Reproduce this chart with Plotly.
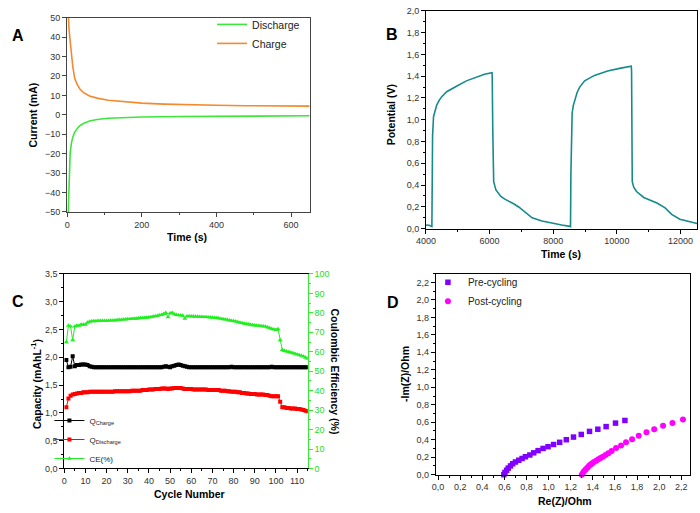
import plotly.graph_objects as go

W, H = 700, 513
FONT = "Liberation Sans, Arial, sans-serif"

# ---------------- Panel A data ----------------
a_charge_t = [2, 3, 5, 8, 11, 15, 20, 27, 35, 45, 60, 80, 110, 150, 200, 260, 330, 400, 480, 560, 650]
a_charge_i = [55, 50, 44, 38, 32, 25, 19, 15.5, 13.0, 11.3, 9.7, 8.6, 7.5, 6.7, 6.0, 5.5, 5.1, 4.9, 4.7, 4.55, 4.5]
a_dis_t = [2, 3, 4, 6, 8, 11, 15, 20, 27, 35, 45, 60, 80, 110, 150, 200, 300, 400, 500, 650]
a_dis_i = [-55, -50, -38, -26, -20, -15, -11.5, -9.0, -7.0, -5.5, -4.3, -3.2, -2.4, -1.8, -1.4, -1.15, -0.9, -0.7, -0.6, -0.5]

# ---------------- Panel B data ----------------
b_time = [4000, 4100, 4186, 4195, 4207, 4238, 4290, 4341, 4420, 4496, 4650, 4800, 4960, 5270, 5580, 5840,
          6075, 6082, 6100, 6128, 6199, 6354, 6480, 6614, 6770, 6924, 7130, 7336, 7646, 7955, 8265, 8530,
          8543, 8555, 8570, 8595, 8630, 8677, 8750, 8832, 8987, 9296, 9709, 10122, 10452, 10462, 10475,
          10484, 10530, 10618, 10845, 11050, 11259, 11516, 11723, 11980, 12290, 12520]
b_volt = [0.033, 0.030, 0.018, 0.40, 0.85, 1.03, 1.10, 1.137, 1.18, 1.212, 1.257, 1.285, 1.308, 1.357, 1.393, 1.417,
          1.432, 1.40, 0.90, 0.43, 0.355, 0.295, 0.27, 0.25, 0.225, 0.196, 0.144, 0.099, 0.069, 0.049, 0.033, 0.020,
          0.018, 0.50, 0.95, 1.062, 1.13, 1.18, 1.25, 1.30, 1.357, 1.407, 1.447, 1.474, 1.492, 1.45, 0.90,
          0.43, 0.38, 0.34, 0.286, 0.26, 0.235, 0.19, 0.13, 0.085, 0.06, 0.047]

# ---------------- Panel C data ----------------
cycles = list(range(1, 116))
q_charge = [1.95, 1.82, 1.83, 2.02, 1.84, 1.86, 1.86, 1.87, 1.87, 1.87,
            1.86, 1.84, 1.83, 1.82, 1.82, 1.82, 1.82, 1.82, 1.82, 1.82,
            1.82, 1.82, 1.82, 1.82, 1.82, 1.82, 1.82, 1.82, 1.82, 1.82,
            1.82, 1.82, 1.82, 1.82, 1.82, 1.82, 1.82, 1.82, 1.82, 1.82,
            1.82, 1.82, 1.82, 1.82, 1.82, 1.82, 1.83, 1.84, 1.83, 1.82,
            1.84, 1.85, 1.86, 1.87, 1.86, 1.85, 1.84, 1.83, 1.82, 1.82,
            1.82, 1.82, 1.82, 1.82, 1.82, 1.82, 1.82, 1.82, 1.82, 1.82,
            1.82, 1.82, 1.82, 1.82, 1.82, 1.82, 1.82, 1.82, 1.83, 1.82,
            1.82, 1.82, 1.82, 1.82, 1.82, 1.82, 1.82, 1.82, 1.82, 1.82,
            1.82, 1.82, 1.82, 1.82, 1.82, 1.82, 1.82, 1.83, 1.82, 1.82,
            1.82, 1.82, 1.82, 1.82, 1.82, 1.82, 1.82, 1.82, 1.82, 1.82,
            1.82, 1.82, 1.82, 1.82, 1.82]
q_discharge = [1.10, 1.26, 1.31, 1.33, 1.34, 1.35, 1.36, 1.36, 1.37, 1.37,
               1.37, 1.38, 1.38, 1.38, 1.38, 1.38, 1.38, 1.38, 1.38, 1.38,
               1.38, 1.38, 1.38, 1.39, 1.39, 1.39, 1.39, 1.39, 1.39, 1.39,
               1.39, 1.40, 1.40, 1.40, 1.40, 1.40, 1.41, 1.41, 1.41, 1.42,
               1.42, 1.42, 1.43, 1.43, 1.43, 1.44, 1.44, 1.44, 1.43, 1.44,
               1.44, 1.45, 1.45, 1.45, 1.45, 1.44, 1.43, 1.43, 1.43, 1.43,
               1.42, 1.42, 1.42, 1.42, 1.42, 1.42, 1.42, 1.41, 1.41, 1.41,
               1.41, 1.41, 1.41, 1.40, 1.40, 1.40, 1.39, 1.39, 1.38, 1.38,
               1.38, 1.37, 1.37, 1.36, 1.36, 1.35, 1.35, 1.34, 1.34, 1.34,
               1.33, 1.33, 1.33, 1.33, 1.32, 1.32, 1.31, 1.30, 1.30, 1.30,
               1.30, 1.20, 1.10, 1.10, 1.09, 1.09, 1.08, 1.08, 1.08, 1.07,
               1.07, 1.06, 1.05, 1.04, 1.03]
ce = [65.0, 73.5, 73.0, 66.0, 73.0, 73.5, 73.5, 74.0, 74.0, 74.0,
      75.0, 75.5, 75.7, 75.8, 75.8, 75.9, 75.9, 76.0, 76.0, 76.0,
      76.0, 76.1, 76.1, 76.2, 76.3, 76.4, 76.5, 76.6, 76.7, 76.8,
      76.9, 77.0, 77.0, 77.1, 77.2, 77.3, 77.4, 77.5, 77.6, 77.7,
      77.9, 78.1, 78.3, 78.5, 78.8, 79.0, 79.5, 80.0, 77.8, 79.8,
      80.0, 79.3, 79.0, 78.8, 78.7, 78.6, 77.0, 78.3, 78.3, 78.2,
      78.2, 78.1, 78.1, 78.0, 78.0, 77.9, 77.9, 77.8, 77.7, 77.6,
      77.5, 77.4, 77.2, 77.0, 76.8, 76.6, 76.5, 76.2, 76.0, 75.8,
      75.6, 75.3, 75.0, 74.8, 74.5, 74.3, 74.1, 73.9, 73.7, 73.6,
      73.5, 73.4, 73.3, 73.1, 73.0, 72.6, 72.2, 71.8, 71.5, 71.3,
      71.7, 66.0, 61.0, 60.5, 60.2, 59.9, 59.6, 59.3, 59.0, 58.6,
      58.3, 58.0, 57.6, 57.0, 56.5]

# ---------------- Panel D data ----------------
pre_re = [0.595, 0.605, 0.62, 0.635, 0.655, 0.675, 0.70, 0.73, 0.76, 0.79, 0.83, 0.865, 0.905,
          0.95, 0.995, 1.045, 1.10, 1.16, 1.225, 1.295, 1.37, 1.445, 1.52, 1.605, 1.69]
pre_im = [0.0, 0.025, 0.05, 0.075, 0.10, 0.125, 0.145, 0.165, 0.185, 0.205, 0.225, 0.25, 0.275,
          0.30, 0.32, 0.345, 0.37, 0.40, 0.43, 0.46, 0.495, 0.52, 0.55, 0.59, 0.62]
post_re = [1.30, 1.31, 1.32, 1.335, 1.35, 1.365, 1.38, 1.395, 1.41, 1.43, 1.45, 1.47, 1.49,
           1.515, 1.54, 1.57, 1.61, 1.655, 1.70, 1.755, 1.815, 1.885, 1.955, 2.035, 2.12, 2.215]
post_im = [0.0, 0.02, 0.04, 0.06, 0.08, 0.10, 0.115, 0.13, 0.145, 0.16, 0.175, 0.19, 0.205,
           0.225, 0.245, 0.27, 0.305, 0.335, 0.37, 0.405, 0.445, 0.485, 0.52, 0.56, 0.59, 0.63]


def px_x(p):
    return p / W


def px_y(p):
    return 1 - p / H


fig = go.Figure()

# A
fig.add_trace(go.Scatter(x=a_dis_t, y=a_dis_i, mode="lines", name="Discharge",
                         line=dict(color="#3ce63c", width=1.6), xaxis="x", yaxis="y", legend="legend"))
fig.add_trace(go.Scatter(x=a_charge_t, y=a_charge_i, mode="lines", name="Charge",
                         line=dict(color="#f5892d", width=1.6), xaxis="x", yaxis="y", legend="legend"))
# B
fig.add_trace(go.Scatter(x=b_time, y=b_volt, mode="lines", showlegend=False,
                         line=dict(color="#178a8c", width=1.6), xaxis="x2", yaxis="y2"))
# C
fig.add_trace(go.Scatter(x=cycles, y=q_charge, mode="lines+markers", name="Q<sub>Charge</sub>",
                         line=dict(color="black", width=1), marker=dict(symbol="square", size=4, color="black"),
                         xaxis="x3", yaxis="y3", legend="legend2"))
fig.add_trace(go.Scatter(x=cycles, y=q_discharge, mode="lines+markers", name="Q<sub>Discharge</sub>",
                         line=dict(color="#ff0000", width=1), marker=dict(symbol="square", size=4, color="#ff0000"),
                         xaxis="x3", yaxis="y3", legend="legend2"))
fig.add_trace(go.Scatter(x=cycles, y=ce, mode="lines+markers", name="CE(%)",
                         line=dict(color="#22ee22", width=1), marker=dict(symbol="triangle-up", size=4.5, color="#22ee22"),
                         xaxis="x3", yaxis="y5", legend="legend2"))
# D
fig.add_trace(go.Scatter(x=pre_re, y=pre_im, mode="markers", name="Pre-cycling",
                         marker=dict(symbol="square", size=5.5, color="#8000ff"),
                         xaxis="x4", yaxis="y4", legend="legend3", cliponaxis=False))
fig.add_trace(go.Scatter(x=post_re, y=post_im, mode="markers", name="Post-cycling",
                         marker=dict(symbol="circle", size=6, color="#ff00ff"),
                         xaxis="x4", yaxis="y4", legend="legend3", cliponaxis=False))


def ax(domain, rng, dtick, minor_dtick, anchor, fmt=None, color="black", mirror=True, linecolor="black"):
    d = dict(domain=domain, range=rng, dtick=dtick, tick0=0, anchor=anchor,
             showline=True, linecolor=linecolor, linewidth=1, mirror=mirror,
             ticks="outside", ticklen=4, tickwidth=1, tickcolor=linecolor,
             showgrid=False, zeroline=False, tickfont=dict(family=FONT, size=9, color=color),
             minor=dict(ticks="outside", ticklen=2, tickcolor=linecolor, dtick=minor_dtick, showgrid=False))
    if fmt:
        d["tickformat"] = fmt
    return d


layout = dict(
    width=W, height=H, margin=dict(l=0, r=0, t=0, b=0),
    paper_bgcolor="white", plot_bgcolor="white",
    separators=", ",
    font=dict(family=FONT, size=10, color="black"),
    # A
    xaxis=ax([px_x(58), px_x(304)], [0, 650], 200, 100, "y", color="#333333", linecolor="#444444"),
    yaxis=ax([px_y(211), px_y(13)], [-50, 50], 10, None, "x", color="#333333", linecolor="#444444"),
    # B
    xaxis2=ax([px_x(422), px_x(697)], [4000, 12520], 2000, 1000, "y2", fmt="d", color="#333333"),
    yaxis2=ax([px_y(228), px_y(6)], [0, 2.0], 0.2, 0.1, "x2", fmt=".1f", color="#333333"),
    # C
    xaxis3=ax([px_x(55), px_x(302)], [0, 115], 10, 5, "y3", color="#333333"),
    yaxis3=ax([px_y(472.7), px_y(274.3)], [0, 3.5], 0.5, 0.25, "x3", fmt=".1f", color="#333333", mirror=False),
    yaxis5=ax([px_y(472.7), px_y(274.3)], [0, 100], 10, 5, "x3", color="#22dd22", mirror=False, linecolor="#33ee33"),
    # D
    xaxis4=ax([px_x(432), px_x(690)], [-0.02, 2.28], 0.2, 0.1, "y4", fmt=".1f", color="#333333"),
    yaxis4=ax([px_y(479), px_y(274)], [0, 2.3], 0.2, 0.1, "x4", fmt=".1f", color="#333333"),
    legend=dict(x=px_x(205), y=px_y(5), xanchor="left", yanchor="top", bgcolor="rgba(0,0,0,0)",
                font=dict(family=FONT, size=10.5, color="#222222")),
    legend2=dict(x=px_x(40), y=px_y(409), xanchor="left", yanchor="top", bgcolor="rgba(0,0,0,0)",
                 font=dict(family=FONT, size=8, color="#222222")),
    legend3=dict(x=px_x(424), y=px_y(268), xanchor="left", yanchor="top", bgcolor="rgba(0,0,0,0)",
                 font=dict(family=FONT, size=10, color="#222222")),
)
layout["yaxis"]["minor"] = dict(ticks="")
layout["yaxis5"].update(overlaying="y3", side="right")
fig.update_layout(**layout)

# axis titles & panel letters
ann = [
    ("<b>Time (s)</b>", 180, 237, 0, 10.5),
    ("<b>Current (mA)</b>", 23, 112, -90, 10.5),
    ("<b>Time (s)</b>", 559, 254, 0, 10.5),
    ("<b>Potential (V)</b>", 386, 112, -90, 10.5),
    ("<b>Cycle Number</b>", 182, 499, 0, 10.5),
    ("<b>Capacity (mAhL<sup>-1</sup>)</b>", 26, 387, -90, 10.5),
    ("<b>Coulombic Efficiency (%)</b>", 330, 374, 90, 10.5),
    ("<b>Re(Z)/Ohm</b>", 563, 506, 0, 10.5),
    ("<b>-Im(Z)/Ohm</b>", 400, 376, -90, 10.5),
    ("<b>A</b>", 8, 31, 0, 16),
    ("<b>B</b>", 388, 30, 0, 16),
    ("<b>C</b>", 8, 302, 0, 16),
    ("<b>D</b>", 389, 303, 0, 16),
]
for text, x, y, ang, size in ann:
    fig.add_annotation(text=text, x=px_x(x), y=px_y(y), xref="paper", yref="paper",
                       xanchor="center", yanchor="middle", showarrow=False, textangle=ang,
                       font=dict(family=FONT, size=size, color="black"))

fig.write_html("out.html")
